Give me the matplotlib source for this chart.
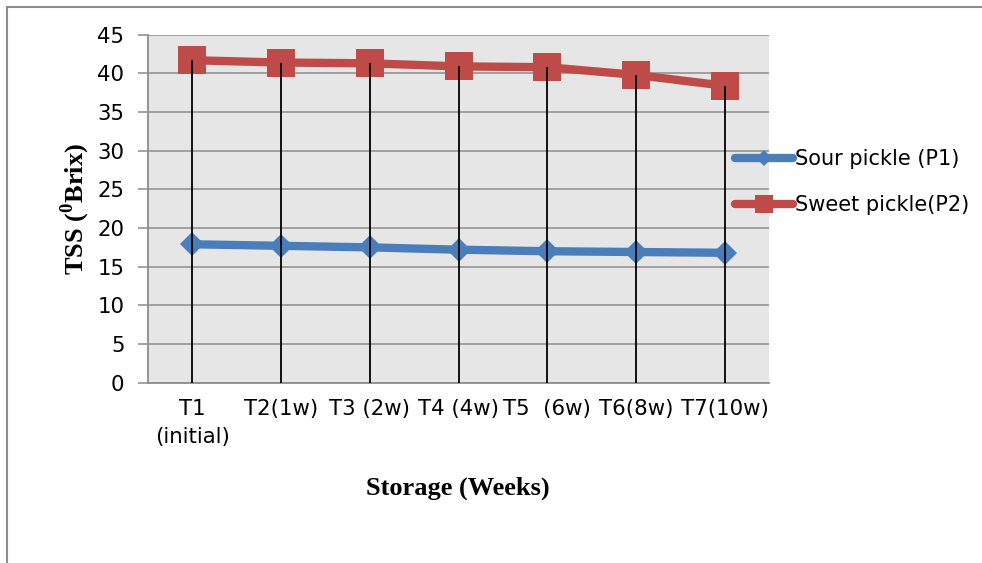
import matplotlib
matplotlib.use("Agg")
import matplotlib.pyplot as plt
from matplotlib.lines import Line2D

# Storage stages and total soluble solids (°Brix) for the two pickles
stages = ["T1\n(initial)", "T2(1w)", "T3 (2w)", "T4 (4w)", "T5  (6w)", "T6(8w)", "T7(10w)"]
sour_p1 = [17.9, 17.7, 17.5, 17.2, 17.0, 16.9, 16.8]
sweet_p2 = [41.7, 41.4, 41.3, 40.9, 40.8, 39.8, 38.4]
y_ticks = [0, 5, 10, 15, 20, 25, 30, 35, 40, 45]

plt.rcParams["mathtext.fontset"] = "custom"
plt.rcParams["mathtext.rm"] = "Liberation Serif"
plt.rcParams["mathtext.bf"] = "Liberation Serif:bold"

W, H = 982, 563
fig = plt.figure(figsize=(W / 100, H / 100), dpi=100)
fig.patch.set_facecolor("white")

# plot area
ax = fig.add_axes([148 / W, 180.3 / H, 621 / W, 348 / H])
ax.set_facecolor("#e6e6e6")

x = list(range(len(stages)))
blue = "#4a7ebb"
red = "#be4b48"

ax.plot(x, sour_p1, color=blue, lw=6, marker="D", ms=12.5, mew=0,
        solid_capstyle="round", label="Sour pickle (P1)", zorder=3)
ax.plot(x, sweet_p2, color=red, lw=6, marker="s", ms=19.5, mew=0,
        solid_capstyle="round", label="Sweet pickle(P2)", zorder=3)

# drop lines from the highest series down to the category axis
ax.vlines(x, 0, [max(a, b) for a, b in zip(sour_p1, sweet_p2)],
          colors="black", lw=1.3, zorder=5)

ax.set_xlim(-0.5, len(stages) - 0.5)
ax.set_ylim(0, 45)
ax.set_yticks(y_ticks)
ax.set_xticks(x)
ax.set_xticklabels(stages, fontsize=15.3, family="DejaVu Sans", linespacing=1.45)
for lab in ax.get_yticklabels():
    lab.set_fontsize(15.3)
    lab.set_family("DejaVu Sans")

ax.grid(axis="y", color="#8c8c8c", lw=1.1, zorder=1)
ax.set_axisbelow(True)
ax.tick_params(axis="y", length=7, width=1.1, color="#8c8c8c", pad=10)
ax.tick_params(axis="x", length=0, pad=12)
for side in ("top", "right"):
    ax.spines[side].set_visible(False)
for side in ("left", "bottom"):
    ax.spines[side].set_color("#8c8c8c")
    ax.spines[side].set_linewidth(1.3)

# axis titles
fig.text(75 / W, 1 - 209 / H, r"TSS ($^{\mathbf{0}}$Brix)", rotation=90,
         ha="center", va="center", fontsize=19, fontweight="bold",
         family="Liberation Serif")
fig.text(458 / W, 1 - 488 / H, "Storage (Weeks)", ha="center", va="center",
         fontsize=19, fontweight="bold", family="Liberation Serif")

# legend to the right of the plot area
fig.legend(loc="center left", bbox_to_anchor=(735 / W, 1 - 182 / H),
           frameon=False, prop={"family": "DejaVu Sans", "size": 15},
           handlelength=2.8, handletextpad=0.1, labelspacing=1.25,
           markerscale=0.63, borderpad=0, borderaxespad=0)

# outer chart border (left and top edges)
fig.add_artist(Line2D([6.5 / W, 6.5 / W], [0, 1 - 7 / H], color="#8c8c8c", lw=1.5))
fig.add_artist(Line2D([6.5 / W, 1], [1 - 7 / H, 1 - 7 / H], color="#8c8c8c", lw=1.5))

fig.savefig("out.png", dpi=100)
